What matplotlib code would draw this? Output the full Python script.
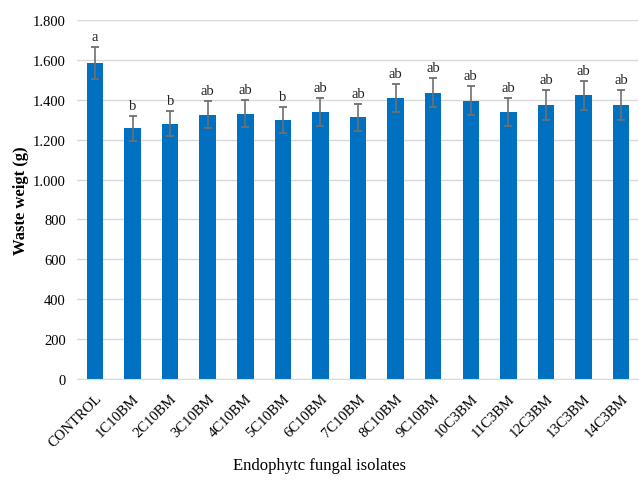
import matplotlib
matplotlib.use("Agg")
import matplotlib.pyplot as plt
from matplotlib.ticker import FuncFormatter

categories = ["CONTROL", "1C10BM", "2C10BM", "3C10BM", "4C10BM", "5C10BM", "6C10BM",
              "7C10BM", "8C10BM", "9C10BM", "10C3BM", "11C3BM", "12C3BM", "13C3BM", "14C3BM"]
values = [1584, 1257, 1279, 1325, 1330, 1299, 1339, 1312, 1409, 1436, 1395, 1339, 1375, 1422, 1375]
errors = [80, 63, 63, 67, 67, 66, 68, 67, 70, 71, 72, 68, 74, 72, 74]
letters = ["a", "b", "b", "ab", "ab", "b", "ab", "ab", "ab", "ab", "ab", "ab", "ab", "ab", "ab"]

plt.rcParams['font.family'] = ['Liberation Serif', 'DejaVu Serif']

fig = plt.figure(figsize=(6.39, 4.89), dpi=100)
ax = fig.add_axes([77/639, 1-380/489, (638-77)/639, (380-21)/489])

x = list(range(len(categories)))
ax.bar(x, values, width=0.44, color="#0070C0", zorder=2)
ax.errorbar(x, values, yerr=errors, fmt="none", ecolor="#6f6f6f", elinewidth=1.2,
            capsize=3, capthick=1.3, zorder=3)
for xi, v, e, l in zip(x, values, errors, letters):
    ax.annotate(l, (xi, v + e), xytext=(0, 3), textcoords="offset points",
                ha="center", va="bottom", fontsize=10.5, color="#222222")

ax.set_ylim(0, 1800)
ax.set_xlim(-0.48, 14.45)
ax.set_yticks(range(0, 1801, 200))
ax.yaxis.set_major_formatter(FuncFormatter(lambda v, p: f"{int(v):,}".replace(",", ".")))
ax.set_xticks(x)
ax.set_xticklabels(categories, rotation=45, ha="right", rotation_mode="anchor", fontsize=10.5)
ax.tick_params(axis="y", labelsize=10.5, length=0, pad=8)
ax.tick_params(axis="x", length=0, pad=9)
ax.grid(axis="y", color="#d9d9d9", linewidth=1, zorder=0)
for s in ["top", "right", "left"]:
    ax.spines[s].set_visible(False)
ax.spines["bottom"].set_color("#d9d9d9")

ax.set_ylabel("Waste weigt (g)", fontsize=12, fontweight="bold", labelpad=3)
fig.text(0.5, 1-466/489, "Endophytc fungal isolates", ha="center", va="center", fontsize=12)

fig.savefig("out.png", dpi=100)
